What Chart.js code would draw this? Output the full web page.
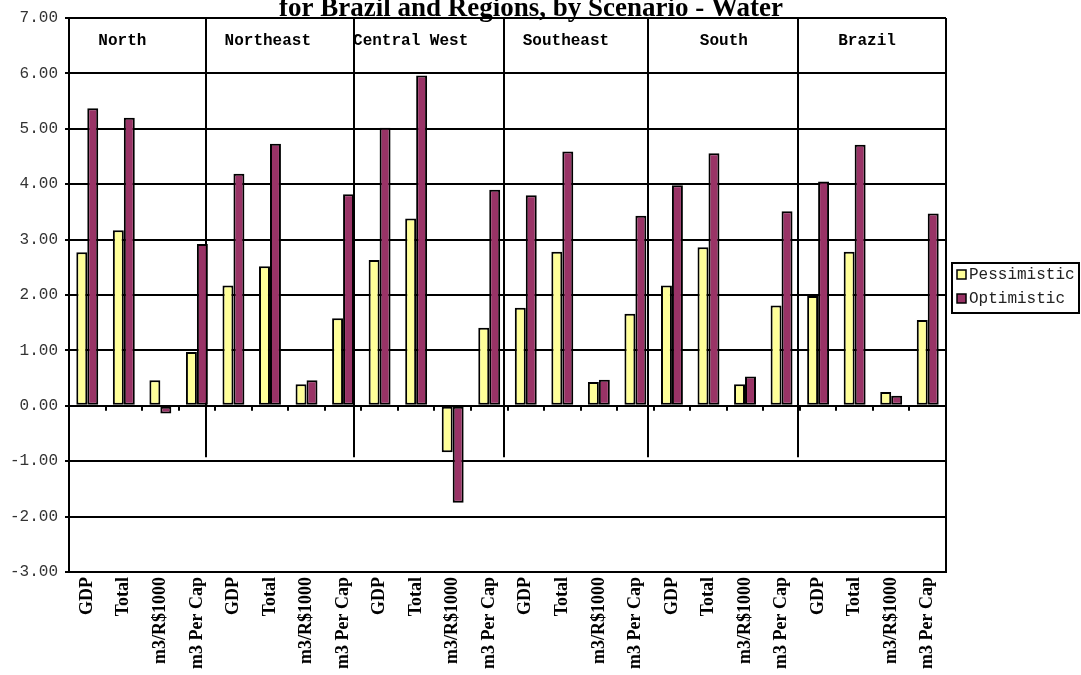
<!DOCTYPE html>
<html>
<head>
<meta charset="utf-8">
<script src="https://cdn.jsdelivr.net/npm/chart.js@4.4.1/dist/chart.umd.min.js"></script>
<style>
  html, body { margin: 0; padding: 0; background: #fff; }
  #wrap { width: 1081px; height: 675px; position: relative; }
</style>
</head>
<body>
<div id="wrap"><canvas id="chart"></canvas></div>
<script>
// --- data ---
const indicators = ['GDP', 'Total', 'm3/R$1000', 'm3 Per Cap'];
const regions = ['North', 'Northeast', 'Central West', 'Southeast', 'South', 'Brazil'];
const categories = regions.flatMap(() => indicators);
const seriesNames = ['Pessimistic', 'Optimistic'];
const pessimistic = [2.77, 3.17, 0.46, 0.97, 2.17, 2.52, 0.39, 1.58, 2.63, 3.38, -0.84, 1.41,
                     1.77, 2.78, 0.43, 1.66, 2.17, 2.86, 0.39, 1.81, 1.98, 2.78, 0.25, 1.55];
const optimistic = [5.37, 5.20, -0.14, 2.92, 4.19, 4.73, 0.46, 3.82, 5.02, 5.96, -1.75, 3.90,
                    3.80, 4.59, 0.47, 3.43, 3.98, 4.56, 0.53, 3.51, 4.05, 4.71, 0.18, 3.47];
const yMin = -3, yMax = 7, yStep = 1;
const titleText = 'for Brazil and Regions, by Scenario - Water';

const colors = ['#FFFF99', '#993366'];

// header row layout (in category units from the left edge of the plot)
const separatorAt = [3.74, 7.79, 11.90, 15.85, 19.94];
const regionLabelAt = [1.46, 5.44, 9.35, 13.6, 17.92, 21.84];
const separatorBottom = -0.93;

const monoFont = '"Liberation Mono", "Courier New", monospace';

// draws the boxed plot, region header, zero-line ticks
const tablePlugin = {
  id: 'tableDecor',
  beforeDatasetsDraw(chart) {
    const { ctx, chartArea: a, scales: { x, y } } = chart;
    const px = u => x.getPixelForValue(u - 0.5);
    ctx.save();
    ctx.strokeStyle = '#000';
    ctx.lineWidth = 2;
    // right edge of the plot
    ctx.beginPath();
    ctx.moveTo(a.right, a.top);
    ctx.lineTo(a.right, a.bottom);
    ctx.stroke();
    // region separators
    separatorAt.forEach(u => {
      const xx = Math.round(px(u));
      ctx.beginPath();
      ctx.moveTo(xx, a.top);
      ctx.lineTo(xx, y.getPixelForValue(separatorBottom));
      ctx.stroke();
    });
    // small ticks below the zero line
    const y0 = y.getPixelForValue(0);
    for (let i = 1; i < categories.length; i++) {
      const xx = Math.round(x.getPixelForValue(i - 0.5));
      ctx.beginPath();
      ctx.moveTo(xx, y0);
      ctx.lineTo(xx, y0 + 5);
      ctx.stroke();
    }
    // region names in the header row
    ctx.fillStyle = '#000';
    ctx.font = 'bold 16px ' + monoFont;
    ctx.textAlign = 'center';
    ctx.textBaseline = 'middle';
    const yh = (y.getPixelForValue(yMax) + y.getPixelForValue(yMax - 1)) / 2 - 5;
    regions.forEach((r, i) => ctx.fillText(r, px(regionLabelAt[i]), yh));
    ctx.restore();
  },
  afterDraw(chart) {
    const { ctx } = chart;
    ctx.save();
    // title (top part is clipped by the page in the reference)
    ctx.fillStyle = '#000';
    ctx.font = 'bold 27px "Liberation Serif", "Times New Roman", serif';
    ctx.textAlign = 'center';
    ctx.textBaseline = 'alphabetic';
    ctx.fillText(titleText, 531, 16);

    // legend box
    const lx = 952, ly = 263, lw = 127, lh = 50;
    ctx.lineWidth = 2;
    ctx.strokeStyle = '#000';
    ctx.strokeRect(lx, ly, lw, lh);
    ctx.font = '16px ' + monoFont;
    ctx.textAlign = 'left';
    ctx.textBaseline = 'middle';
    chart.data.datasets.forEach((ds, i) => {
      const cy = ly + 11 + i * 24;
      ctx.fillStyle = ds.backgroundColor;
      ctx.fillRect(lx + 5, cy - 4, 9, 9);
      ctx.lineWidth = 1.5;
      ctx.strokeRect(lx + 5, cy - 4, 9, 9);
      ctx.fillStyle = '#222';
      ctx.fillText(ds.label, lx + 17, cy + 1);
    });
    ctx.restore();
  }
};

new Chart(document.getElementById('chart'), {
  type: 'bar',
  data: {
    labels: categories,
    datasets: [
      {
        label: seriesNames[0],
        data: pessimistic,
        backgroundColor: colors[0],
        borderColor: '#000',
        borderWidth: 2,
        borderSkipped: false
      },
      {
        label: seriesNames[1],
        data: optimistic,
        backgroundColor: colors[1],
        borderColor: '#000',
        borderWidth: 2,
        borderSkipped: false
      }
    ]
  },
  options: {
    responsive: true,
    maintainAspectRatio: false,
    animation: false,
    devicePixelRatio: 1,
    layout: { padding: { top: 18, right: 135, left: 0, bottom: 0 } },
    datasets: { bar: { categoryPercentage: 0.6, barPercentage: 1.0 } },
    plugins: {
      legend: { display: false },
      tooltip: { enabled: false },
      title: { display: false }
    },
    scales: {
      x: {
        grid: { display: false, drawTicks: false },
        border: { display: true, color: '#000', width: 2 },
        ticks: {
          autoSkip: false,
          minRotation: 90,
          maxRotation: 90,
          padding: 5,
          color: '#000',
          font: { family: '"Liberation Serif", "Times New Roman", serif', size: 18, weight: 'bold' }
        },
        afterFit: s => { s.height = 103; }
      },
      y: {
        min: yMin,
        max: yMax,
        grid: { color: '#000', lineWidth: 2, tickLength: 4, drawTicks: true },
        border: { display: true, color: '#000', width: 2 },
        ticks: {
          stepSize: yStep,
          padding: 7,
          color: '#333',
          font: { family: monoFont, size: 16 },
          callback: v => v.toFixed(2)
        },
        afterFit: s => { s.width = 69; }
      }
    }
  },
  plugins: [tablePlugin]
});
</script>
</body>
</html>
